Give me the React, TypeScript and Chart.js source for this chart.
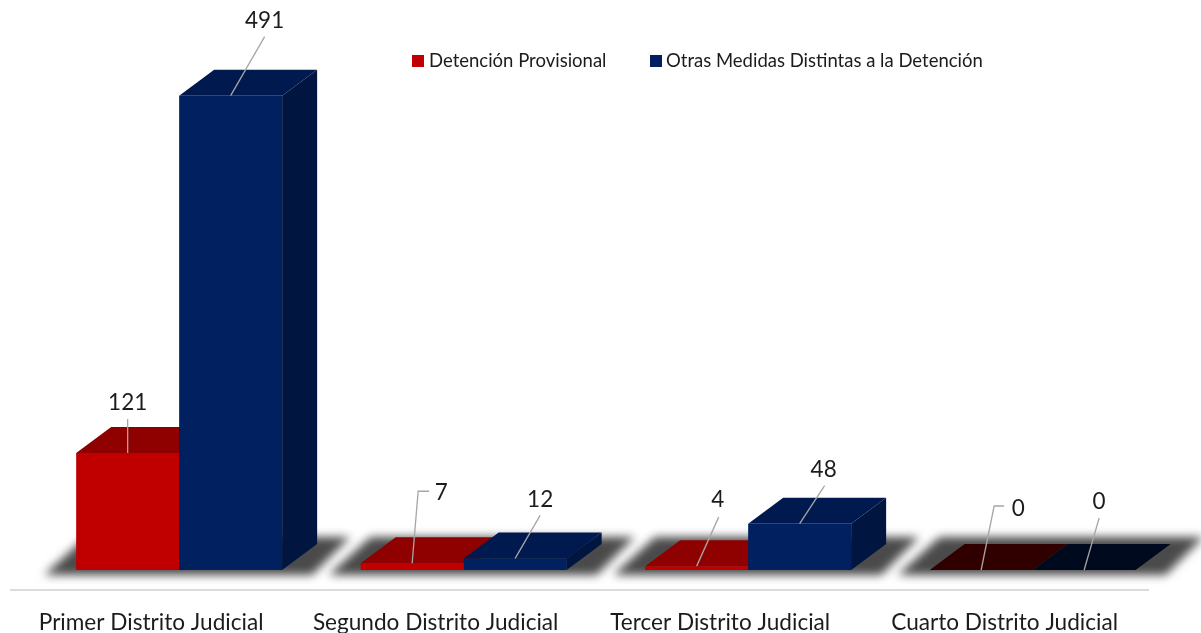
import React, { useEffect, useRef } from "react";
import { Chart, registerables } from "chart.js";

Chart.register(...registerables);

const categories = [
  "Primer Distrito Judicial",
  "Segundo Distrito Judicial",
  "Tercer Distrito Judicial",
  "Cuarto Distrito Judicial",
];
const detencionLabel = "Detención Provisional";
const otrasLabel = "Otras Medidas Distintas a la Detención";
const detencion = [121, 7, 4, 0];
const otras = [491, 12, 48, 0];

const FONT = "Lato, Carlito, sans-serif";
const TEXT = "#1c1c1c";
const DEPTH_X = 35;
const DEPTH_Y = 26;

const palette = [
  { front: "#C00000", top: "#8F0000", side: "#700000", zeroTop: "#300000" },
  { front: "#002060", top: "#001A4F", side: "#00153F", zeroTop: "#000A1E" },
];

// leader lines: offsets from the bar's top centre [dataset][category]
const leaders = [
  [
    { text: [0, -50], line: [[0, -34]] },
    { text: [29, -70], line: [[6, -72], [17, -72]] },
    { text: [21, -66], line: [[22, -49]] },
    { text: [37, -61], line: [[13, -64], [23, -64]] },
  ],
  [
    { text: [34, -75], line: [[34, -59]] },
    { text: [25, -59], line: [[25, -43]] },
    { text: [24, -54], line: [[25, -38]] },
    { text: [15, -68], line: [[15, -52]] },
  ],
];

function poly(ctx: CanvasRenderingContext2D, pts: number[][], fill: string) {
  ctx.beginPath();
  pts.forEach((p, i) => (i ? ctx.lineTo(p[0], p[1]) : ctx.moveTo(p[0], p[1])));
  ctx.closePath();
  ctx.fillStyle = fill;
  ctx.fill();
}

const box3d = {
  id: "box3d",
  beforeDatasetsDraw(chart: any) {
    const { ctx } = chart;
    const red = chart.getDatasetMeta(0).data;
    const blue = chart.getDatasetMeta(1).data;
    const base = chart.scales.y.getPixelForValue(0);

    // floor shadows
    ctx.save();
    ctx.filter = "blur(5px)";
    red.forEach((bar: any, i: number) => {
      const x0 = bar.x - bar.width / 2;
      const x1 = blue[i].x + blue[i].width / 2;
      poly(
        ctx,
        [
          [x0 - 32, base + 5],
          [x0 + 10, base - 33],
          [x1 + 68, base - 33],
          [x1 + 30, base + 5],
        ],
        "#4a4a4a"
      );
    });
    ctx.restore();

    // top and side faces, red series behind the blue one
    [red, blue].forEach((bars: any[], d: number) => {
      bars.forEach((bar: any, i: number) => {
        const l = bar.x - bar.width / 2;
        const r = bar.x + bar.width / 2;
        const t = bar.y;
        const zero = chart.data.datasets[d].data[i] === 0;
        const c = palette[d];
        if (!zero) {
          poly(
            ctx,
            [
              [r, t],
              [r + DEPTH_X, t - DEPTH_Y],
              [r + DEPTH_X, base - DEPTH_Y],
              [r, base],
            ],
            c.side
          );
        }
        poly(
          ctx,
          [
            [l, t],
            [l + DEPTH_X, t - DEPTH_Y],
            [r + DEPTH_X, t - DEPTH_Y],
            [r, t],
          ],
          zero ? c.zeroTop : c.top
        );
      });
    });
  },
  afterDatasetsDraw(chart: any) {
    const { ctx } = chart;
    // leader lines and value labels
    ctx.save();
    chart.data.datasets.forEach((ds: any, d: number) => {
      chart.getDatasetMeta(d).data.forEach((bar: any, i: number) => {
        const info = leaders[d][i];
        ctx.beginPath();
        ctx.moveTo(bar.x, bar.y);
        info.line.forEach((p: number[]) => ctx.lineTo(bar.x + p[0], bar.y + p[1]));
        ctx.strokeStyle = "#a6a6a6";
        ctx.lineWidth = 1.3;
        ctx.stroke();
        ctx.fillStyle = TEXT;
        ctx.font = `22.5px ${FONT}`;
        ctx.textAlign = "center";
        ctx.textBaseline = "middle";
        ctx.fillText(String(ds.data[i]), bar.x + info.text[0], bar.y + info.text[1]);
      });
    });

    // horizontal rule above the category labels
    ctx.beginPath();
    ctx.moveTo(10, 590);
    ctx.lineTo(1149, 590);
    ctx.strokeStyle = "#dcdcdc";
    ctx.lineWidth = 2;
    ctx.stroke();

    // legend
    ctx.font = `18.5px ${FONT}`;
    ctx.textAlign = "left";
    ctx.textBaseline = "middle";
    const legendX = [412, 650];
    chart.data.datasets.forEach((ds: any, d: number) => {
      ctx.fillStyle = palette[d].front;
      ctx.fillRect(legendX[d], 55, 12, 12);
      ctx.fillStyle = TEXT;
      ctx.fillText(ds.label, legendX[d] + (d ? 16 : 17), 61.5);
    });
    ctx.restore();
  },
};

export default function App() {
  const ref = useRef<HTMLCanvasElement | null>(null);
  useEffect(() => {
    const chart = new Chart(ref.current as HTMLCanvasElement, {
      type: "bar",
      data: {
        labels: categories,
        datasets: [
          { label: detencionLabel, data: detencion, backgroundColor: palette[0].front },
          { label: otrasLabel, data: otras, backgroundColor: palette[1].front },
        ],
      },
      plugins: [box3d],
      options: {
        responsive: false,
        animation: false,
        layout: { padding: { left: 36.9, right: 26.1, top: 0, bottom: 0 } },
        datasets: { bar: { barPercentage: 1, categoryPercentage: 0.724 } },
        plugins: { legend: { display: false }, tooltip: { enabled: false } },
        scales: {
          x: {
            grid: { display: false, drawTicks: false },
            border: { display: false },
            afterFit(scale: any) {
              scale.height = 63;
            },
            ticks: {
              maxRotation: 0,
              padding: 39,
              labelOffset: -28,
              color: TEXT,
              font: { family: FONT, size: 22.6 },
            },
          },
          y: { display: false, min: 0, max: 590 },
        },
      },
    } as any);
    return () => chart.destroy();
  }, []);
  return (
    <div style={{ position: "absolute", left: 0, top: 0, width: 1201, height: 633, background: "#fff" }}>
      <canvas ref={ref} width={1201} height={633} style={{ display: "block" }} />
    </div>
  );
}
